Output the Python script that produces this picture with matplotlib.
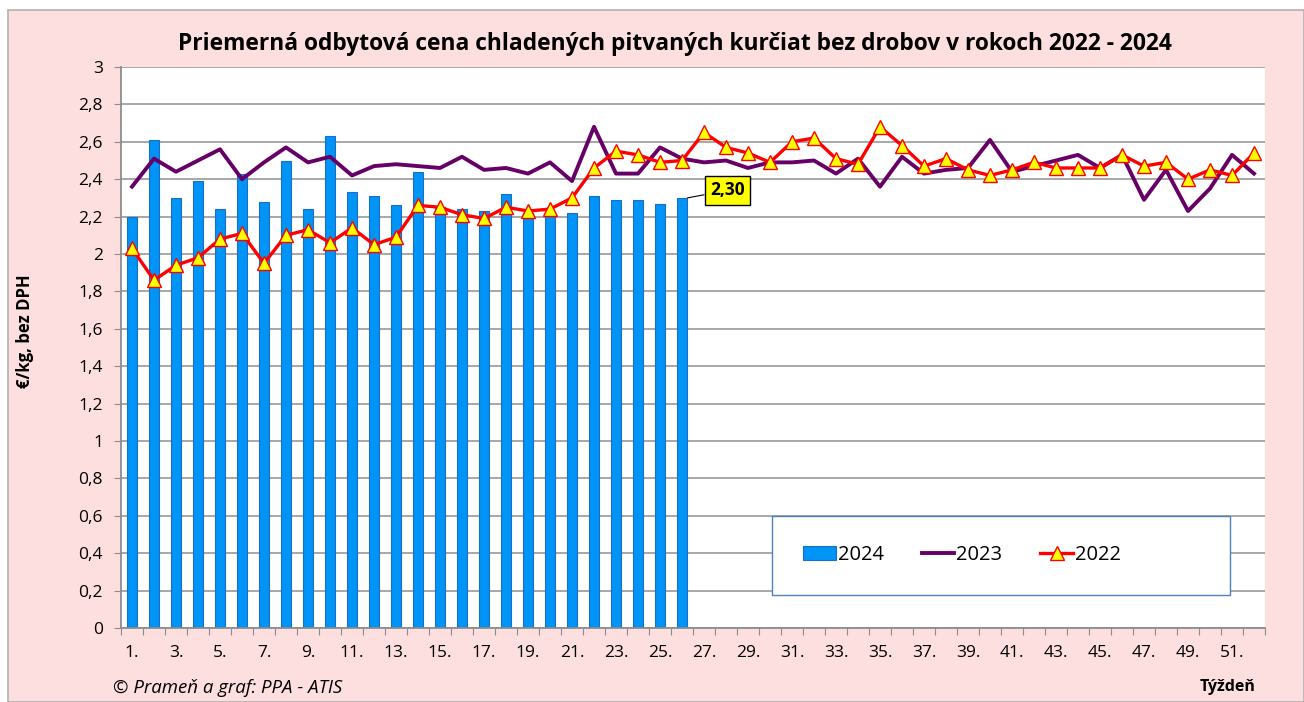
import numpy as np
import matplotlib.pyplot as plt
from matplotlib.patches import Rectangle

# týždne 1..52
weeks = np.arange(1, 53)

# 2024 - stĺpce (26 týždňov)
ceny_2024 = [2.20, 2.61, 2.30, 2.39, 2.24, 2.43, 2.28, 2.50, 2.24, 2.63,
             2.33, 2.31, 2.26, 2.44, 2.25, 2.24, 2.23, 2.32, 2.22, 2.22,
             2.22, 2.31, 2.29, 2.29, 2.27, 2.30]

# 2023 - čiara
ceny_2023 = [2.36, 2.51, 2.44, 2.50, 2.56, 2.40, 2.49, 2.57, 2.49, 2.52,
             2.42, 2.47, 2.48, 2.47, 2.46, 2.52, 2.45, 2.46, 2.43, 2.49,
             2.39, 2.68, 2.43, 2.43, 2.57, 2.51, 2.49, 2.50, 2.46, 2.49,
             2.49, 2.50, 2.43, 2.51, 2.36, 2.52, 2.43, 2.45, 2.46, 2.61,
             2.44, 2.47, 2.50, 2.53, 2.46, 2.53, 2.29, 2.45, 2.23, 2.35,
             2.53, 2.43]

# 2022 - čiara s trojuholníkmi
ceny_2022 = [2.03, 1.86, 1.94, 1.98, 2.08, 2.11, 1.95, 2.10, 2.13, 2.06,
             2.14, 2.05, 2.09, 2.26, 2.25, 2.21, 2.19, 2.25, 2.23, 2.24,
             2.30, 2.46, 2.55, 2.53, 2.49, 2.50, 2.65, 2.57, 2.54, 2.49,
             2.60, 2.62, 2.51, 2.48, 2.68, 2.58, 2.47, 2.51, 2.45, 2.42,
             2.45, 2.49, 2.46, 2.46, 2.46, 2.53, 2.47, 2.49, 2.40, 2.45,
             2.42, 2.54]

y_ticks = np.arange(0, 3.01, 0.2)
y_labels = ['0', '0,2', '0,4', '0,6', '0,8', '1', '1,2', '1,4', '1,6', '1,8',
            '2', '2,2', '2,4', '2,6', '2,8', '3']

plt.rcParams['font.family'] = ['Open Sans', 'DejaVu Sans']

fig = plt.figure(figsize=(13.04, 7.02), dpi=100, facecolor='white')
# ružové pozadie grafu s okrajom
fig.patches.append(Rectangle((8 / 1304, 0), 1 - 8 / 1304, 1 - 10 / 702,
                             transform=fig.transFigure, facecolor='#FDDFE0',
                             edgecolor='#B0B0B0', linewidth=1.2, zorder=-10))

ax = fig.add_axes([121 / 1304, 1 - 628 / 702, 1144 / 1304, 561 / 702])
ax.set_facecolor('white')

b24 = ax.bar(weeks[:len(ceny_2024)], ceny_2024, width=0.45, color='#0094F7',
             edgecolor='#1A6FC4', linewidth=0.8, label='2024', zorder=2)
l23, = ax.plot(weeks, ceny_2023, color='#660066', linewidth=2.8, label='2023', zorder=3)
l22, = ax.plot(weeks, ceny_2022, color='#FF0000', linewidth=2.4, marker='^',
               markersize=10, markerfacecolor='#FFFF00', markeredgecolor='#FF0000',
               markeredgewidth=1.0, label='2022', zorder=4)

ax.set_xlim(0.5, 52.5)
ax.set_ylim(0, 3)
ax.set_yticks(y_ticks)
ax.set_yticklabels(y_labels, fontsize=12.5)
ax.grid(axis='y', color='#A0A0A0', linewidth=1.3, zorder=0)
ax.set_axisbelow(True)

ax.set_xticks(np.arange(0.5, 53, 1), minor=False)
ax.set_xticklabels([])
ax.set_xticks(weeks[::2], minor=True)
ax.set_xticklabels([f'{w}.' for w in weeks[::2]], minor=True, fontsize=12.5)
ax.tick_params(axis='x', which='minor', length=0, pad=12)
ax.tick_params(axis='x', which='major', length=5, color='#8C8C8C')
ax.tick_params(axis='y', length=5, color='#8C8C8C', pad=8)

for s in ['top', 'right']:
    ax.spines[s].set_visible(False)
ax.spines['left'].set_color('#8C8C8C')
ax.spines['bottom'].set_color('#8C8C8C')
ax.spines['left'].set_linewidth(1.3)
ax.spines['bottom'].set_linewidth(1.3)

ax.set_ylabel('€/kg, bez DPH', fontsize=12, fontweight='bold')
ax.yaxis.set_label_coords((34 - 121) / 1144, (628 - 331) / 561)

# popis posledného týždňa
ax.annotate('2,30', xy=(26.25, ceny_2024[-1]), xytext=(28.05, 2.34),
            fontsize=12.5, fontweight='bold', ha='center', va='center',
            bbox=dict(boxstyle='square,pad=0.3', facecolor='#FFFF00',
                      edgecolor='black', linewidth=1),
            arrowprops=dict(arrowstyle='-', color='black', linewidth=0.8,
                            shrinkA=0, shrinkB=0),
            zorder=6)

# rámik legendy
ax.add_patch(Rectangle(((772 - 121) / 1144, (628 - 595) / 561), 458 / 1144, 79 / 561,
                       transform=ax.transAxes, facecolor='white', edgecolor='#4F81BD',
                       linewidth=1.0, zorder=7))
leg = ax.legend([b24, l23, l22], ['2024', '2023', '2022'], loc='center',
                bbox_to_anchor=((962 - 121) / 1144, (628 - 555) / 561),
                ncol=3, fontsize=14.5, frameon=False, handlelength=1.6,
                handletextpad=0.1, columnspacing=1.9)
leg.set_zorder(8)

fig.text(0.5 * (172 + 1178) / 1304, 1 - 44 / 702,
         'Priemerná odbytová cena chladených pitvaných kurčiat bez drobov v rokoch 2022 - 2024',
         ha='center', va='center', fontsize=16.4, fontweight='bold')
fig.text(113 / 1304, 1 - 688 / 702, '© Prameň a graf: PPA - ATIS',
         ha='left', va='center', fontsize=13.4, style='italic')
fig.text(1255 / 1304, 1 - 687 / 702, 'Týždeň', ha='right', va='center',
         fontsize=11.5, fontweight='bold')

fig.savefig('out.png', dpi=100, facecolor=fig.get_facecolor())
